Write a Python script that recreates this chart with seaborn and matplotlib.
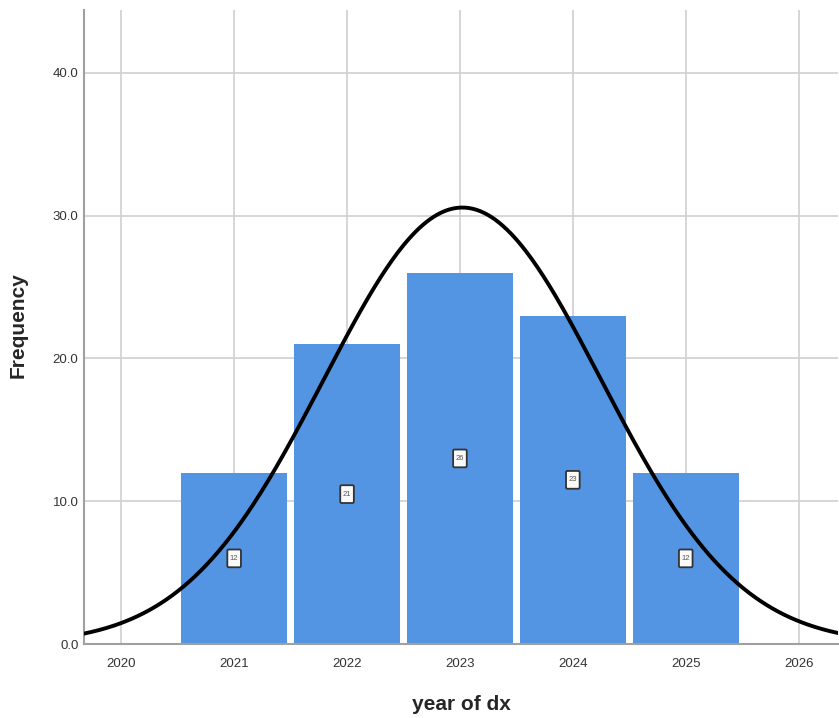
import numpy as np
import pandas as pd
import matplotlib
matplotlib.use("Agg")
import matplotlib.pyplot as plt
from matplotlib.offsetbox import DrawingArea, AnnotationBbox
from matplotlib.patches import FancyBboxPatch
from matplotlib.text import Text
import seaborn as sns

years = [2021, 2022, 2023, 2024, 2025]
counts = [12, 21, 26, 23, 12]
x_ticks = [2020, 2021, 2022, 2023, 2024, 2025, 2026]
y_ticks = [0, 10, 20, 30, 40]

sns.set_style("white")
plt.rcParams["font.family"] = ["Liberation Sans", "DejaVu Sans"]

df = pd.DataFrame({"year": years, "count": counts})

# normal curve fitted to the frequency table
values = np.repeat(years, counts)
mu = values.mean()
sd = values.std(ddof=1)
n = len(values)
xs = np.linspace(2019.6, 2026.4, 400)
ys = n * 1.0 / (sd * np.sqrt(2 * np.pi)) * np.exp(-0.5 * ((xs - mu) / sd) ** 2)
curve = pd.DataFrame({"x": xs, "y": ys})

fig = plt.figure(figsize=(8.39, 7.18), dpi=100)
ax = fig.add_axes([0.1001, 0.103, 0.8989, 0.883])

bar_color = "#5394e3"
sns.barplot(data=df, x="year", y="count", native_scale=True, width=0.94,
            color=bar_color, saturation=1, edgecolor="none", ax=ax, zorder=2)
sns.lineplot(data=curve, x="x", y="y", color="black", linewidth=2.8, ax=ax,
             zorder=4)

# small boxed value labels at half bar height
bw, bh = 11.0, 14.0
for yr, c in zip(years, counts):
    da = DrawingArea(bw, bh, 0, 0)
    da.add_artist(FancyBboxPatch((0.6, 0.6), bw - 1.2, bh - 1.2,
                                 boxstyle="round,pad=0,rounding_size=1",
                                 facecolor="#fafafa", edgecolor="#333333",
                                 linewidth=1.3))
    da.add_artist(Text(bw / 2, bh / 2, str(c), ha="center", va="center",
                       fontsize=5.5, color="#555555"))
    ab = AnnotationBbox(da, (yr, c / 2), frameon=False,
                        box_alignment=(0.5, 0.5), pad=0, zorder=5)
    ax.add_artist(ab)

ax.set_xlim(2019.67, 2026.35)
ax.set_ylim(0, 44.4)
ax.set_xticks(x_ticks)
ax.set_xticklabels([str(t) for t in x_ticks])
ax.set_yticks(y_ticks)
ax.set_yticklabels([f"{t:.1f}" for t in y_ticks])
ax.tick_params(axis="both", labelsize=9.5, colors="#333333", length=0)
ax.tick_params(axis="x", pad=10)
ax.tick_params(axis="y", pad=4)

ax.grid(True, color="#d0d0d0", linewidth=1.2, zorder=0)
ax.set_axisbelow(True)
for side in ["top", "right"]:
    ax.spines[side].set_visible(False)
for side in ["left", "bottom"]:
    ax.spines[side].set_color("#a0a0a0")
    ax.spines[side].set_linewidth(1.5)

ax.set_xlabel("year of dx", fontsize=15, fontweight="bold")
ax.set_ylabel("Frequency", fontsize=15, fontweight="bold")
ax.xaxis.set_label_coords(0.5, -0.096)
ax.yaxis.set_label_coords(-0.087, 0.503)
ax.xaxis.label.set_va("center")
ax.yaxis.label.set_va("center")

fig.savefig("out.png", dpi=100)
